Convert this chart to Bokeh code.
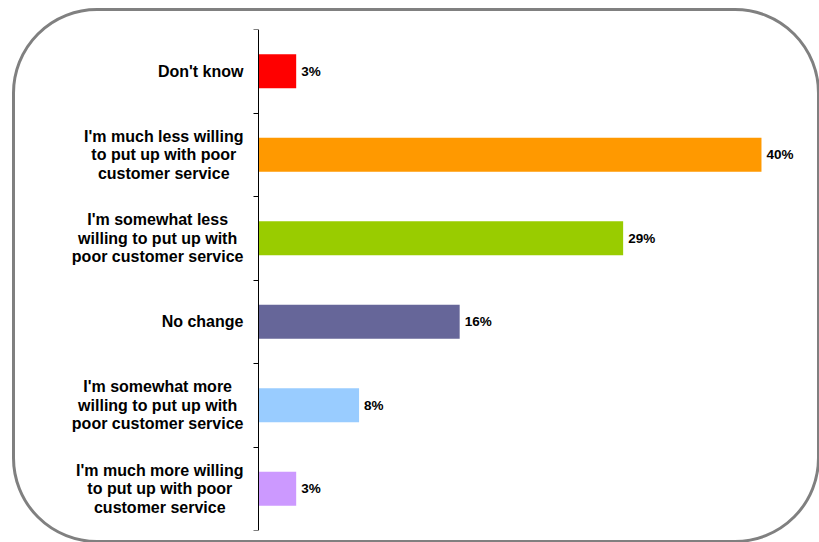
from bokeh.plotting import figure
from bokeh.models import Range1d, FixedTicker, ColumnDataSource
from bokeh.core.properties import value
from bokeh.embed import file_html
from bokeh.resources import INLINE

categories = [
    "Don't know",
    "I'm much less willing\nto put up with poor\ncustomer service",
    "I'm somewhat less\nwilling to put up with\npoor customer service",
    "No change",
    "I'm somewhat more\nwilling to put up with\npoor customer service",
    "I'm much more willing\nto put up with poor\ncustomer service",
]
values = [3, 40, 29, 16, 8, 3]
value_labels = ["3%", "40%", "29%", "16%", "8%", "3%"]
colors = ["#FF0000", "#FF9900", "#99CC00", "#666699", "#99CCFF", "#CC99FF"]

n = len(categories)
ys = [n - i - 0.5 for i in range(n)]

src = ColumnDataSource(dict(y=ys, v=values, lab=value_labels, c=colors,
                            cat=categories, zero=[0] * n))

p = figure(width=802, height=529, output_backend="svg", toolbar_location=None,
           x_range=Range1d(-16.14, 43.66), y_range=Range1d(0, n),
           min_border_left=40, min_border_top=18, min_border_bottom=10, min_border_right=10)
p.styles = {"outline": "3px solid #808080", "outline-offset": "0px",
            "border-radius": "82px", "margin-left": "15px", "margin-top": "11px"}
p.background_fill_color = None
p.border_fill_color = None
p.outline_line_color = None
p.grid.visible = False
p.xaxis.visible = False

p.hbar(y="y", right="v", left="zero", height=0.41, color="c", line_color=None, source=src)
p.text(x="v", y="y", text="lab", x_offset=5, text_baseline="middle", text_align="left",
       text_font=value("Liberation Sans"), text_font_style="bold", text_font_size="13.5px",
       text_color="black", source=src)
p.text(x="zero", y="y", text="cat", x_offset=-15, anchor="center_right",
       text_align="center", text_baseline="middle",
       text_font=value("Liberation Sans"), text_font_style="bold", text_font_size="16px",
       text_color="black", text_line_height=1.1, source=src)

yax = p.yaxis[0]
yax.fixed_location = 0
yax.ticker = FixedTicker(ticks=ys, minor_ticks=list(range(n + 1)))
yax.major_label_text_font_size = "0px"
yax.major_label_text_alpha = 0
yax.major_label_standoff = 0
yax.major_tick_out = 0
yax.major_tick_in = 0
yax.minor_tick_out = 5
yax.minor_tick_in = 0
yax.minor_tick_line_color = "black"
yax.axis_line_color = "black"

open("out.html", "w").write(file_html(p, INLINE))
